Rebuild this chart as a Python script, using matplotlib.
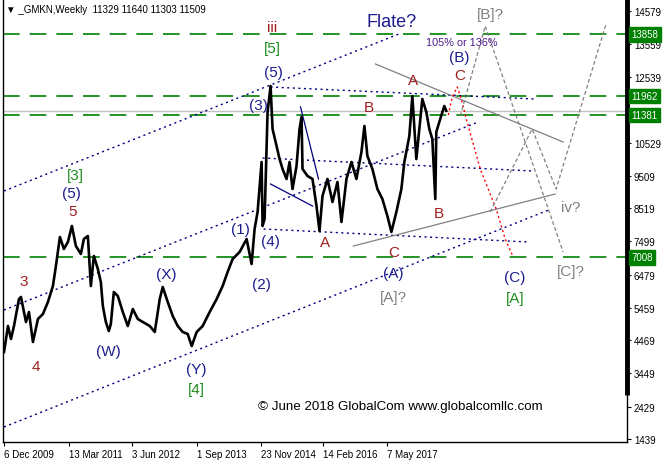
import matplotlib
matplotlib.use("Agg")
import matplotlib.pyplot as plt
import matplotlib.transforms as mtransforms

# weekly GMKN price path (bar index = weeks from 6 Dec 2009)
weeks = [0, 4, 7, 10, 15, 17, 22, 25, 29, 34, 39, 44, 49, 52, 56, 60, 64, 68, 72, 77,
         80, 84, 87, 90, 94, 97, 99, 102, 105, 107, 110, 114, 119, 124, 129, 134, 139, 146, 151, 156,
         159, 164, 169, 174, 179, 184, 188, 193, 199, 206, 213, 219, 224, 229, 236, 243, 248, 251, 254, 258,
         259, 261, 264, 267, 269, 273, 276, 279, 283, 286, 289, 293, 296, 298, 299, 304, 309, 313, 316, 319,
         324, 329, 334, 338, 343, 348, 353, 358, 361, 364, 369, 374, 379, 384, 388, 393, 398, 401, 406, 409,
         413, 416, 419, 423, 426, 429, 432, 433, 436, 441, 443]
prices = [4108, 4906, 4507, 4906, 5734, 5796, 5029, 5335, 4415, 5121, 5274, 5642, 6133, 6747, 7636, 7268, 7483, 7974, 7360, 7115,
          7575, 7667, 6133, 7053, 6655, 6256, 5519, 5029, 4752, 4967, 5949, 5826, 5335, 4906, 5427, 5121, 5029, 4906, 4722, 5734,
          6102, 5642, 5213, 4906, 4722, 4660, 4292, 4722, 4906, 5335, 5734, 6133, 6563, 6961, 7176, 7575, 6808, 7882, 8403, 9937,
          7974, 8189, 11471, 12269, 10950, 10428, 10029, 9723, 9416, 9937, 9109, 9815, 10950, 11318, 9723, 9508, 9416, 8587, 7820, 8894,
          9416, 8710, 9324, 8097, 9416, 9937, 9416, 10244, 11042, 10121, 9723, 9109, 8802, 8281, 7790, 8403, 9109, 9937, 10735, 11962,
          10029, 10950, 11870, 11471, 10950, 10643, 8802, 10858, 11165, 11655, 11509]

last_price = 11509
green_levels = [13858, 11962, 11381, 7008]
ytick_values = [14579, 13559, 12539, 10529, 9509, 8519, 7499, 6479, 5459, 4469, 3449, 2429, 1439]
xtick_weeks = [0, 65, 128, 193, 257, 320, 384]
xtick_labels = ["6 Dec 2009", "13 Mar 2011", "3 Jun 2012", "1 Sep 2013",
                "23 Nov 2014", "14 Feb 2016", "7 May 2017"]

# channel / triangle lines (week, price)
channel_upper = ([0, 398], [9048, 13895])
channel_mid = ([0, 475], [5397, 11165])
channel_low = ([0, 548], [1807, 8495])
tri_top = ([267, 532], [12238, 11870])
tri_mid = ([259, 530], [10060, 9661])
tri_low = ([260, 525], [7882, 7483])
navy_solid_1 = ([297, 315], [11625, 9416])
navy_solid_2 = ([267, 309], [9262, 8587])
grey_solid_1 = ([372, 560], [12944, 10551])
grey_solid_2 = ([350, 552], [7360, 8955])
red_path = ([445, 449, 454, 458, 463, 477, 493, 502, 510],
            [11379, 11932, 12238, 11870, 11257, 9723, 8495, 7575, 7023])
grey_path_b = ([457, 482, 560], [11349, 14110, 7176])
grey_path_iv = ([487, 529, 553, 603], [8403, 10950, 9109, 14171])

NAVY = "#1c1c8f"
BROWN = "#a01e1e"
GREEN = "#1e8c1e"
GREY = "#808080"

fig = plt.figure(figsize=(6.67, 4.64), dpi=100)
ax = fig.add_axes([3 / 667, 21 / 464, 624 / 667, 443 / 464])
ax.set_xlim(-1, 624)
ax.set_ylim(1347, 14938)

for lv in green_levels:
    ax.axhline(lv, color="#008000", lw=1.2, ls=(0, (10, 6)), zorder=2)
ax.axhline(last_price, color="#c0c0c0", lw=1.0, zorder=1)

dot = (0, (1.5, 2.5))
for xs, ys in [channel_upper, channel_mid, channel_low, tri_top, tri_mid, tri_low]:
    ax.plot(xs, ys, color="#000080", lw=1.0, ls=dot, zorder=3)
for xs, ys in [navy_solid_1, navy_solid_2]:
    ax.plot(xs, ys, color="#000080", lw=0.9, zorder=3)
for xs, ys in [grey_solid_1, grey_solid_2]:
    ax.plot(xs, ys, color=GREY, lw=0.9, zorder=3)
ax.plot(*red_path, color="red", lw=1.0, ls=(0, (1.5, 2)), zorder=3)
for xs, ys in [grey_path_b, grey_path_iv]:
    ax.plot(xs, ys, color=GREY, lw=0.9, ls=(0, (3, 2)), zorder=3)

ax.plot(weeks, prices, color="black", lw=1.9, zorder=4)

# wave labels
labels = [
    ("iii", 268, 14079, BROWN), ("[5]", 269, 13435, GREEN), ("(5)", 270, 12699, NAVY),
    ("(3)", 255, 11686, NAVY), ("Flate?", 388, 14233, NAVY), ("[B]?", 487, 14478, GREY),
    ("(B)", 456, 13159, NAVY), ("C", 456, 12607, BROWN), ("A", 410, 12453, BROWN),
    ("B", 365, 11625, BROWN), ("[3]", 71, 9539, GREEN), ("(5)", 68, 8986, NAVY),
    ("5", 69, 8434, BROWN), ("3", 20, 6286, BROWN), ("4", 32, 3679, BROWN),
    ("(W)", 105, 4139, NAVY), ("(X)", 163, 6501, NAVY), ("(Y)", 193, 3587, NAVY),
    ("[4]", 193, 2973, GREEN), ("(1)", 237, 7882, NAVY), ("(4)", 267, 7514, NAVY),
    ("(2)", 258, 6194, NAVY), ("A", 322, 7483, BROWN), ("C", 390, 7176, BROWN),
    ("(A)", 390, 6532, NAVY), ("[A]?", 390, 5796, GREY), ("B", 436, 8373, BROWN),
    ("iv?", 568, 8557, GREY), ("(C)", 512, 6409, NAVY), ("[A]", 512, 5765, GREEN),
    ("[C]?", 568, 6593, GREY),
]
for txt, x, y, c in labels:
    size = 13 if txt == "Flate?" else 11
    ax.text(x, y, txt, color=c, fontsize=size, family="Liberation Sans",
            ha="center", va="center", zorder=5)
ax.text(458, 13619, "105% or 136%", color="#4b1a8b", fontsize=7.8,
        family="Liberation Sans", ha="center", va="center", zorder=5)
ax.text(254, 2451, "\u00a9 June 2018 GlobalCom www.globalcomllc.com", color="black",
        fontsize=9.6, family="Liberation Sans", ha="left", va="center", zorder=5)

# axes styling
ax.spines["top"].set_visible(False)
for s in ["left", "bottom", "right"]:
    ax.spines[s].set_linewidth(1.0)
ax.yaxis.tick_right()
ax.set_yticks(ytick_values)
ax.set_yticklabels([str(v) for v in ytick_values])
ax.tick_params(axis="y", direction="out", length=3, pad=2, labelsize=7)
ax.set_xticks(xtick_weeks)
ax.set_xticklabels(xtick_labels)
ax.tick_params(axis="x", direction="out", length=3, pad=2, labelsize=7)
for lbl in ax.get_xticklabels():
    lbl.set_ha("left")
    lbl.set_family("Liberation Sans")
for lbl in ax.get_yticklabels():
    lbl.set_family("Liberation Sans")

# thick bar on price scale
ax.plot([1, 1], [0.105, 1.0], transform=ax.transAxes, color="black", lw=3.5,
        clip_on=False, solid_capstyle="butt", zorder=6)

# highlighted levels on the price scale
trans = mtransforms.blended_transform_factory(ax.transAxes, ax.transData)
for lv in green_levels:
    ax.text(1.007, lv, str(lv), transform=trans, color="white", fontsize=7,
            family="Liberation Sans", ha="left", va="center", clip_on=False, zorder=7,
            bbox=dict(boxstyle="square,pad=0.25", fc="#008000", ec="#008000"))

fig.text(6 / 667, 1 - 10 / 464, "\u25bc _GMKN,Weekly  11329 11640 11303 11509",
         fontsize=7, family=["Liberation Sans", "DejaVu Sans"], ha="left", va="center")

fig.savefig("out.png", dpi=100)
